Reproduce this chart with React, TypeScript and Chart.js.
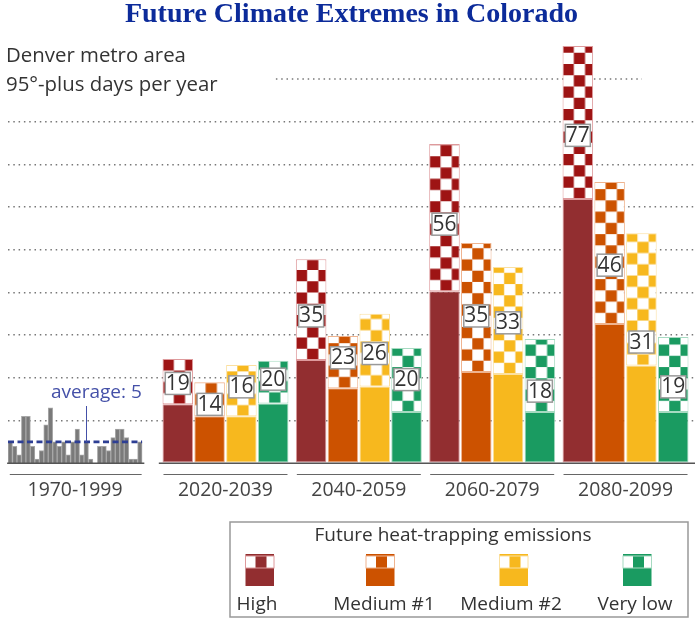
import React, { useEffect, useRef } from "react";
import { Chart, registerables } from "chart.js";

Chart.register(...registerables);

const periods = ["2020-2039", "2040-2059", "2060-2079", "2080-2099"];
const historyLabel = "1970-1999";
const scenarios = ["High", "Medium #1", "Medium #2", "Very low"];
const solidColors = ["#922E30", "#CC5200", "#F7B81E", "#1A9B61"];
const checkColors = ["#9E1414", "#CC5200", "#F7B81E", "#1A9B61"];
const edgeColors = ["#DE9A9C", "#EFB48F", "#FBE0A0", "#A6DAC1"];

const highLow = [13.8, 24.2, 40.3, 61.9];
const highTop = [24.4, 47.8, 74.8, 97.7];
const highAvg = [19, 35, 56, 77];
const highLabelAt = [18.7, 34.5, 56, 76.8];

const med1Low = [11, 17.6, 21.4, 32.6];
const med1Top = [19, 29.8, 51.6, 65.9];
const med1Avg = [14, 23, 35, 46];
const med1LabelAt = [13.8, 24.7, 34.5, 46.4];

const med2Low = [11, 18, 20.9, 22.9];
const med2Top = [23, 35, 46, 53.9];
const med2Avg = [16, 26, 33, 31];
const med2LabelAt = [17.9, 25.7, 32.9, 28.4];

const lowLow = [14, 12, 12, 12];
const lowTop = [24, 27, 29.1, 29.6];
const lowAvg = [20, 20, 18, 19];
const lowLabelAt = [19.7, 19.6, 16.9, 17.9];

const lows = [highLow, med1Low, med2Low, lowLow];
const tops = [highTop, med1Top, med2Top, lowTop];
const avgs = [highAvg, med1Avg, med2Avg, lowAvg];
const labelAts = [highLabelAt, med1LabelAt, med2LabelAt, lowLabelAt];

const years = Array.from({ length: 30 }, (_, i) => 1970 + i);
const historyDays = [5, 4, 2, 11, 11, 4, 1, 3, 9, 13, 5, 4, 5, 2, 5, 8, 2, 5, 1, 0, 4, 4, 3, 6, 8, 8, 6, 1, 1, 5];
const historyAverage = 5;

const subtitleLines = ["Denver metro area", "95°-plus days per year"];
const averageText = "average: 5";
const legendTitle = "Future heat-trapping emissions";
const FONT = '"Open Sans"';

function makeTile(color: string) {
  const tile = document.createElement("canvas");
  tile.width = 45;
  tile.height = 45;
  const c = tile.getContext("2d")!;
  c.fillStyle = "#fff";
  c.fillRect(0, 0, 45, 45);
  c.fillStyle = color;
  for (let r = 0; r < 4; r++)
    for (let col = 0; col < 4; col++)
      if ((r + col) % 2 === 0) c.fillRect(col * 11.25, r * 11.25, 11.25, 11.25);
  return tile;
}

const RULE_Y = 474.5;

const mainOverlay = {
  id: "mainOverlay",
  beforeDatasetDraw(chart: any, args: any) {
    const ds = chart.data.datasets[args.index];
    if (ds.checkIndex === undefined) return;
    const tile = makeTile(checkColors[ds.checkIndex]);
    for (const el of args.meta.data) {
      const pat = chart.ctx.createPattern(tile, "repeat")!;
      pat.setTransform(new DOMMatrix([1, 0, 0, 1, el.x - el.width / 2, el.base]));
      el.options = { ...el.options, backgroundColor: pat };
    }
  },
  afterDatasetsDraw(chart: any) {
    const ctx = chart.ctx;
    const { x, y } = chart.scales;
    ctx.save();
    ctx.textBaseline = "middle";

    ctx.fillStyle = "#333";
    ctx.textAlign = "left";
    ctx.font = `20.4px ${FONT}`;
    subtitleLines.forEach((t, i) => ctx.fillText(t, 6, 56 + i * 29));

    ctx.strokeStyle = "#666";
    ctx.lineWidth = 1.2;
    ctx.beginPath();
    periods.forEach((_, i) => {
      const cx = x.getPixelForValue(i);
      ctx.moveTo(cx - 62, RULE_Y);
      ctx.lineTo(cx + 62, RULE_Y);
    });
    ctx.stroke();

    ctx.textAlign = "center";
    ctx.font = `21px ${FONT}`;
    const metas = chart.getSortedVisibleDatasetMetas();
    scenarios.forEach((_, s) => {
      const meta = metas.find((m: any) => chart.data.datasets[m.index].checkIndex === s);
      periods.forEach((_p, i) => {
        const cx = meta.data[i].x;
        const cy = y.getPixelForValue(labelAts[s][i]);
        ctx.fillStyle = "#fff";
        ctx.strokeStyle = "#999";
        ctx.lineWidth = 1.5;
        ctx.fillRect(cx - 12.5, cy - 11, 25, 22);
        ctx.strokeRect(cx - 12.5, cy - 11, 25, 22);
        ctx.fillStyle = "#333";
        ctx.fillText(String(avgs[s][i]), cx, cy + 0.5);
      });
    });

    ctx.strokeStyle = "#999";
    ctx.lineWidth = 1.5;
    ctx.strokeRect(230, 522, 458, 95);
    ctx.fillStyle = "#333";
    ctx.font = `19px ${FONT}`;
    ctx.fillText(legendTitle, 453, 536);
    const swatchX = [245.5, 366, 499.5, 623];
    const labelX = [257, 384, 511, 635];
    scenarios.forEach((name, s) => {
      const sx = swatchX[s];
      ctx.fillStyle = solidColors[s];
      ctx.fillRect(sx, 568, 28.5, 18);
      ctx.fillRect(sx, 554, 28.5, 2);
      ctx.fillRect(sx + 10, 556, 11, 12);
      ctx.strokeStyle = edgeColors[s];
      ctx.lineWidth = 1;
      ctx.strokeRect(sx, 556, 28.5, 12);
      ctx.fillStyle = "#333";
      ctx.fillText(name, labelX[s], 604.5);
    });
    ctx.restore();
  },
};

const historyOverlay = {
  id: "historyOverlay",
  afterDatasetsDraw(chart: any) {
    const ctx = chart.ctx;
    const { x, y } = chart.scales;
    ctx.save();
    ctx.textBaseline = "middle";
    ctx.textAlign = "left";
    ctx.fillStyle = "#4450A8";
    ctx.font = `19px ${FONT}`;
    ctx.fillText(averageText, 51, 393);
    ctx.strokeStyle = "#4450A8";
    ctx.lineWidth = 1;
    ctx.beginPath();
    ctx.moveTo(86.5, 406);
    ctx.lineTo(86.5, y.getPixelForValue(historyAverage));
    ctx.stroke();
    ctx.strokeStyle = "#666";
    ctx.lineWidth = 1.2;
    ctx.beginPath();
    ctx.moveTo(x.getPixelForValue(1969.9), RULE_Y);
    ctx.lineTo(x.getPixelForValue(1999.4), RULE_Y);
    ctx.stroke();
    ctx.restore();
  },
};

const xMin = -1.631;
const xMax = 3.521;
const AXIS_HEIGHT = 163.7;
const TICK_STYLE = {
  autoSkip: false,
  maxRotation: 0,
  padding: 8,
  color: "#444",
  font: { family: FONT, size: 19.4 },
};

export default function App() {
  const mainRef = useRef<HTMLCanvasElement>(null);
  const histRef = useRef<HTMLCanvasElement>(null);
  useEffect(() => {
    const datasets: any[] = [];
    scenarios.forEach((name, s) => {
      const common = {
        type: "bar",
        stack: name,
        order: 2,
        borderColor: edgeColors[s],
        borderWidth: 1,
        borderSkipped: false,
        categoryPercentage: 0.954,
        barPercentage: 0.96,
      };
      datasets.push({
        ...common,
        label: name,
        backgroundColor: solidColors[s],
        data: periods.map((_, i) => ({ x: i, y: lows[s][i] })),
      });
      datasets.push({
        ...common,
        label: name + " range",
        checkIndex: s,
        backgroundColor: "#fff",
        data: periods.map((_, i) => ({ x: i, y: [lows[s][i], tops[s][i]] })),
      });
    });
    datasets.push({
      type: "line",
      label: "baseline",
      order: -1,
      clip: false,
      borderColor: "#555",
      borderWidth: 1.5,
      pointRadius: 0,
      data: [
        { x: -0.5, y: 0 },
        { x: xMax, y: 0 },
      ],
    });
    datasets.push({
      type: "line",
      label: "top gridline",
      order: 10,
      borderColor: "#777",
      borderWidth: 1.5,
      borderDash: [1.5, 3.8],
      pointRadius: 0,
      data: [
        { x: 0.378, y: 90 },
        { x: 3.123, y: 90 },
      ],
    });

    const chart = new Chart(mainRef.current!, {
      data: { datasets },
      plugins: [mainOverlay],
      options: {
        responsive: false,
        animation: false,
        layout: { padding: { left: 8, right: 5, top: 0, bottom: 0 } },
        plugins: {
          legend: { display: false },
          tooltip: { enabled: false },
          title: {
            display: true,
            text: "Future Climate Extremes in Colorado",
            color: "#0C2B9A",
            font: { family: '"Liberation Serif"', size: 28, weight: "bold", lineHeight: 1 },
            padding: { top: 1, bottom: 7.3 },
          },
        },
        scales: {
          x: {
            type: "linear",
            min: xMin,
            max: xMax,
            offset: false,
            grid: { display: false },
            border: { display: false },
            afterBuildTicks(scale: any) {
              scale.ticks = periods.map((_, value) => ({ value }));
            },
            afterFit(scale: any) {
              scale.height = AXIS_HEIGHT;
            },
            ticks: { ...TICK_STYLE, callback: (v: any) => periods[Math.round(v)] },
          },
          y: {
            min: 0,
            max: 100,
            stacked: false,
            border: { display: false, dash: [1.5, 3.8] },
            grid: {
              drawTicks: false,
              lineWidth: 1.5,
              color: (c: any) =>
                c.tick && c.tick.value >= 10 && c.tick.value <= 80 ? "#777" : "transparent",
            },
            ticks: { display: false, stepSize: 10 },
            afterFit(scale: any) {
              scale.width = 0;
            },
          },
        },
      } as any,
    } as any);

    const historyChart = new Chart(histRef.current!, {
      data: {
        datasets: [
          {
            type: "bar",
            label: historyLabel,
            order: 2,
            backgroundColor: "#7A7A7A",
            borderColor: "#A8A8A8",
            borderWidth: 1,
            categoryPercentage: 1,
            barPercentage: 1,
            data: years.map((yr, i) => ({ x: yr, y: historyDays[i] })),
          },
          {
            type: "line",
            label: "average",
            order: -1,
            borderColor: "#2E3F94",
            borderWidth: 2.8,
            borderDash: [6, 3.5],
            pointRadius: 0,
            data: [
              { x: 1969.5, y: historyAverage },
              { x: 1999.5, y: historyAverage },
            ],
          },
          {
            type: "line",
            label: "baseline history",
            order: -1,
            clip: false,
            borderColor: "#555",
            borderWidth: 1.5,
            pointRadius: 0,
            data: [
              { x: 1969.3, y: 0 },
              { x: 2000, y: 0 },
            ],
          },
        ],
      },
      plugins: [historyOverlay],
      options: {
        responsive: false,
        animation: false,
        layout: { padding: { left: 8, right: 2, top: 36.3, bottom: 0 } },
        plugins: { legend: { display: false }, tooltip: { enabled: false } },
        scales: {
          x: {
            type: "linear",
            min: 1969.5,
            max: 2001.27,
            offset: false,
            grid: { display: false },
            border: { display: false },
            afterBuildTicks(scale: any) {
              scale.ticks = [{ value: 1984.5 }];
            },
            afterFit(scale: any) {
              scale.height = AXIS_HEIGHT;
            },
            ticks: { ...TICK_STYLE, callback: () => historyLabel },
          },
          y: {
            min: 0,
            max: 100,
            border: { display: false },
            grid: { display: false },
            ticks: { display: false },
            afterFit(scale: any) {
              scale.width = 0;
            },
          },
        },
      } as any,
    } as any);

    return () => {
      chart.destroy();
      historyChart.destroy();
    };
  }, []);
  return (
    <div style={{ position: "fixed", left: 0, top: 0, width: 700, height: 627 }}>
      <canvas
        ref={mainRef}
        width={700}
        height={627}
        style={{ position: "absolute", left: 0, top: 0, width: 700, height: 627, display: "block" }}
      />
      <canvas
        ref={histRef}
        width={152}
        height={627}
        style={{ position: "absolute", left: 0, top: 0, width: 152, height: 627, display: "block" }}
      />
    </div>
  );
}
